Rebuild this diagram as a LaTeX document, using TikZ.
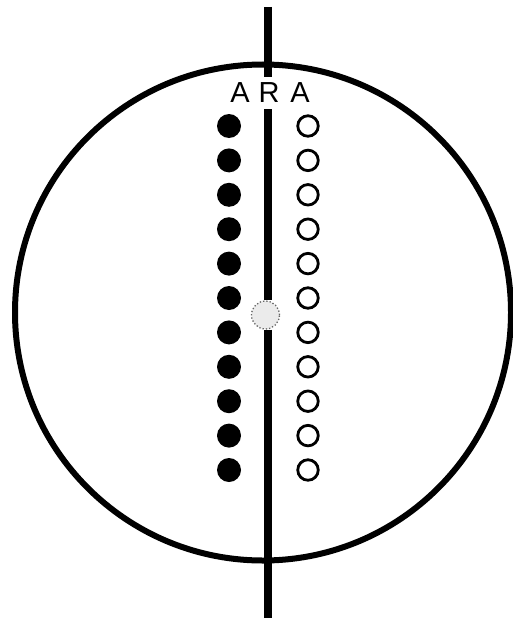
\documentclass[tikz,border=0pt]{standalone}
\usepackage{fontspec}
\setmainfont{Liberation Sans}
\begin{document}
\begin{tikzpicture}[x=1pt,y=-1pt,
  rim/.style={line width=6pt},
  axis/.style={line width=8pt},
  lbl/.style={inner xsep=0pt,inner ysep=6pt,font=\fontsize{29}{29}\selectfont},
  bead/.style={circle,fill=black,minimum size=24pt,inner sep=0pt},
  ring/.style={circle,draw=black,line width=2.8pt,minimum size=20.5pt,inner sep=0pt},
  hub/.style={circle,draw=black!60,dotted,line width=1.3pt,minimum size=28pt,inner sep=0pt,fill=black!8}]
\useasboundingbox (0,0) rectangle (513,618);
\fill[white] (0,0) rectangle (513,618);
% big circle
\node[circle,draw,rim,minimum size=496pt,inner sep=0pt] (disk) at (263,312.5) {};
% labels
\node[lbl] (A1) at (240,93) {A};
\node[lbl] (R)  at (269,93) {R};
\node[lbl] (A2) at (300,93) {A};
% centre hub
\node[hub] (c) at (265.5,315) {};
% axis line
\coordinate (top) at (267.5,7);
\coordinate (bot) at (267.5,618);
\draw[axis] (top) -- (top |- R.north);
\draw[axis] (top |- R.south) -- (top |- c.north);
\draw[axis] (top |- c.south) -- (bot);
% beads
\foreach \i in {0,...,10}{
  \node[bead] (f\i) at (229,126+34.4*\i) {};
  \node[ring] (o\i) at (308,126+34.4*\i) {};
}
\end{tikzpicture}
\end{document}
